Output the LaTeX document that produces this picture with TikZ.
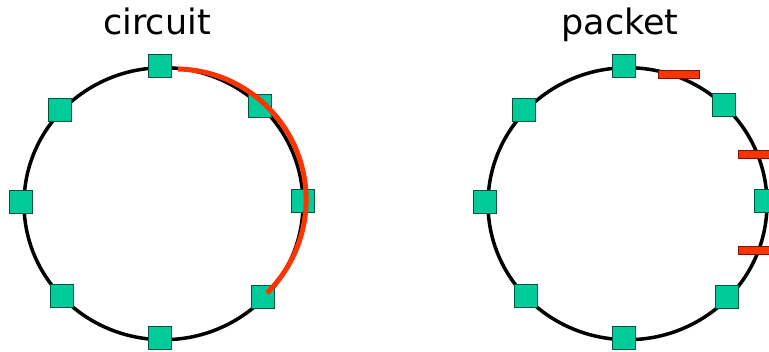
\documentclass[tikz,border=0pt]{standalone}
\usepackage{fontspec}
\setmainfont{DejaVu Sans}
\definecolor{nodegreen}{RGB}{0,204,153}
\definecolor{nodeedge}{RGB}{0,85,60}
\definecolor{pktred}{RGB}{255,51,0}
\definecolor{pktedge}{RGB}{120,20,0}
\begin{document}
\begin{tikzpicture}[x=1pt,y=-1pt,
  station/.style={draw=nodeedge, fill=nodegreen, line width=0.8pt, minimum size=23.2pt, inner sep=0pt},
  pkt/.style={draw=pktedge, fill=pktred, line width=0.8pt, minimum width=41pt, minimum height=8pt, inner sep=0pt},
  ring/.style={line width=3.5pt},
  title/.style={font=\fontsize{35}{40}\selectfont, anchor=base, inner sep=0pt},
  circuitpath/.style={draw=pktred, line width=5pt}]
\useasboundingbox (0,0) rectangle (769,352);
% titles
\node[title] (tc) at (157,35) {circuit};
\node[title] (tp) at (620,35) {packet};
% rings
\draw[ring] (163.5,203.7) ellipse [x radius=139.5, y radius=136];
\draw[ring] (627.5,203.7) ellipse [x radius=139.5, y radius=136];
% left stations
\node[station] (L1) at (160,66) {};
\node[station] (L2) at (260,106) {};
\node[station] (L3) at (303,201) {};
\node[station] (L4) at (263,297) {};
\node[station] (L5) at (160,338) {};
\node[station] (L6) at (61.5,296) {};
\node[station] (L7) at (21,202) {};
\node[station] (L8) at (59.5,110) {};
% circuit
\coordinate (cs) at (177.9,69);
\draw[circuitpath] (cs) arc[start angle=-88.9, end angle=45.5, radius=130.7];
% right stations
\node[station] (R1) at (624,66) {};
\node[station] (R2) at (724,105) {};
\node[station] (R3) at (766,201) {};
\node[station] (R4) at (727,297) {};
\node[station] (R5) at (624,338) {};
\node[station] (R6) at (526,296) {};
\node[station] (R7) at (485,202) {};
\node[station] (R8) at (523.5,110) {};
% packets
\node[pkt] (P1) at (678.5,74) {};
\node[pkt] (P2) at (758.5,154.5) {};
\node[pkt] (P3) at (758.5,250) {};
\end{tikzpicture}
\end{document}
